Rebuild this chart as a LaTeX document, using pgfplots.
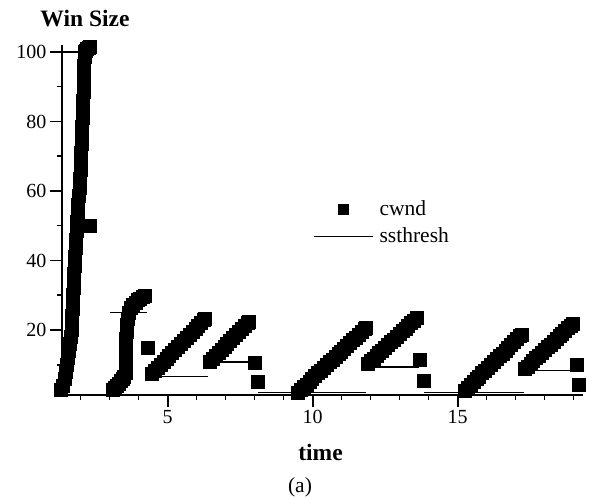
\documentclass[border=0pt]{standalone}
\usepackage{fontspec}
\setmainfont{Liberation Serif}
\usepackage{pgfplots}
\pgfplotsset{compat=1.18}
\begin{document}
\begin{tikzpicture}
\useasboundingbox (-62bp,-102bp) rectangle (529bp,395bp);
\begin{axis}[
  scale only axis, width=521bp, height=350bp,
  xmin=1.355, xmax=19.32, ymin=1.3, ymax=102,
  axis x line=bottom, axis y line=left,
  axis line style={-, line width=1.7bp},
  clip=false,
  xtick={5,10,15}, minor xtick={2,3,4,6,7,8,9,11,12,13,14,16,17,18,19},
  ytick={20,40,60,80,100}, minor ytick={10,30,50,70,90},
  tick align=outside,
  major tick length=12bp, minor tick length=5bp,
  major tick style={line width=1.7bp, black},
  minor tick style={line width=1.5bp, black},
  /pgf/number format/assume math mode=true,
  tick label style={font=\fontsize{20bp}{24bp}\selectfont},
  reverse legend,
  legend cell align=left,
  legend style={at={(0.4818,0.5657)}, anchor=north west, draw=none, fill=none,
    inner sep=0pt, column sep=4bp, row sep=3bp,
    font=\fontsize{21.5bp}{25bp}\selectfont,
    nodes={inner sep=2bp, text height=16bp, text depth=4bp}},
]
% ssthresh
\addplot[black, line width=1.4bp, unbounded coords=jump,
  legend image code/.code={\draw[line width=1.4bp] (0bp,0bp) -- (59bp,0bp);}]
  coordinates {
  (1.36,100) (2.15,100) (nan,nan)
  (3.01,25) (4.29,25) (nan,nan)
  (4.32,6.6) (6.40,6.6) (nan,nan)
  (6.40,10.8) (7.98,10.8) (nan,nan)
  (8.12,2.0) (11.85,2.0) (nan,nan)
  (11.85,9.3) (13.68,9.3) (nan,nan)
  (13.84,2.0) (17.28,2.0) (nan,nan)
  (17.28,8.3) (19.08,8.3)
  };
\addlegendentry{ssthresh}
% cwnd
\addplot[black, only marks, mark=square*, mark size=6.5bp, mark options={fill=black, line width=0pt},
  legend image code/.code={\draw[opacity=0] (0bp,0bp) -- (59bp,0bp);
    \draw[mark=square*, mark size=5bp, mark options={fill=black}] plot coordinates {(29.5bp,0bp)};}]
  coordinates {
  (1.32,2.6)(1.40,4)(1.45,6)(1.50,8)(1.535,10)(1.57,12)(1.60,14)(1.635,16)(1.67,18)(1.685,20)
  (1.70,22)(1.715,24)(1.73,26)(1.74,28)(1.75,30)(1.76,32)(1.77,34)(1.78,36)(1.80,38.5)(1.815,41)
  (1.83,43.5)(1.85,46)(1.865,48.5)(1.88,51)(1.90,53.5)(1.92,56)(1.94,58.5)(1.96,61)(1.98,63.5)
  (1.995,66)(2.01,68.5)(2.02,71)(2.03,73.5)(2.04,76)(2.05,78.5)(2.065,81)(2.08,83.5)(2.09,86)
  (2.10,88.5)(2.11,91)(2.12,93.5)(2.13,96)(2.14,98.5)(2.15,100)(2.19,100.4)(2.23,100.8)
  (2.28,101.1)(2.33,101.3)
  (2.32,49.8)
  (3.10,2.7)(3.17,3.3)(3.24,4.0)(3.31,4.6)(3.38,5.2)(3.45,5.8)(3.51,6.4)(3.55,7.5)(3.56,9.5)
  (3.56,11.5)(3.56,13.5)(3.57,15.5)(3.57,17.5)(3.58,19.5)(3.61,21.5)(3.64,23.3)(3.67,25)
  (3.74,26.2)(3.82,27.1)(3.90,27.9)(3.98,28.5)(4.06,29)(4.14,29.4)(4.22,29.7)
  (4.32,14.8)
  (4.46,7.3)(4.56,8.2)(4.66,9.0)(4.76,9.9)(4.86,10.8)(4.96,11.6)(5.06,12.5)(5.16,13.4)(5.26,14.3)
  (5.36,15.1)(5.46,16.0)(5.56,16.9)(5.66,17.7)(5.76,18.6)(5.86,19.5)(5.96,20.3)(6.06,21.2)
  (6.16,22.1)(6.26,22.9)(6.29,23.2)
  (6.46,10.8)(6.56,11.7)(6.66,12.5)(6.76,13.4)(6.86,14.2)(6.96,15.1)(7.06,16.0)(7.16,16.8)
  (7.26,17.7)(7.36,18.5)(7.46,19.4)(7.56,20.2)(7.66,21.1)(7.76,22.0)(7.80,22.3)
  (8.01,10.6)(8.12,4.9)
  (9.49,1.9)(9.59,2.7)(9.69,3.5)(9.79,4.3)(9.89,5.1)(9.99,5.9)(10.09,6.7)(10.19,7.5)(10.29,8.3)
  (10.39,9.1)(10.49,9.9)(10.59,10.7)(10.69,11.5)(10.79,12.3)(10.89,13.1)(10.99,13.8)(11.09,14.6)
  (11.19,15.4)(11.29,16.2)(11.39,17.0)(11.49,17.8)(11.59,18.6)(11.69,19.4)(11.79,20.2)(11.84,20.6)
  (11.90,10.2)(12.00,11.0)(12.10,11.8)(12.20,12.5)(12.30,13.3)(12.40,14.1)(12.50,14.9)(12.60,15.7)
  (12.70,16.5)(12.80,17.2)(12.90,18.0)(13.00,18.8)(13.10,19.6)(13.20,20.4)(13.30,21.2)(13.40,21.9)
  (13.50,22.7)(13.60,23.5)
  (13.70,11.4)(13.84,5.3)
  (15.25,2.5)(15.35,3.3)(15.45,4.2)(15.55,5.0)(15.65,5.8)(15.75,6.6)(15.85,7.5)(15.95,8.3)
  (16.05,9.1)(16.15,9.9)(16.25,10.8)(16.35,11.6)(16.45,12.4)(16.55,13.2)(16.65,14.1)(16.75,14.9)
  (16.85,15.7)(16.95,16.5)(17.05,17.4)(17.15,18.2)(17.21,18.7)
  (17.31,8.7)(17.41,9.5)(17.51,10.3)(17.61,11.1)(17.71,11.9)(17.81,12.6)(17.91,13.4)(18.01,14.2)
  (18.11,15.0)(18.21,15.8)(18.31,16.6)(18.41,17.4)(18.51,18.2)(18.61,18.9)(18.71,19.7)(18.81,20.5)
  (18.91,21.2)(18.97,21.6)
  (19.10,9.8)(19.18,4.3)
  };
\addlegendentry{cwnd}
\end{axis}
\node[anchor=base, font=\fontsize{23.5bp}{28bp}\selectfont\bfseries] at (23bp,368bp) {Win Size};
\node[anchor=base, font=\fontsize{23.5bp}{28bp}\selectfont\bfseries] at (258.5bp,-65bp) {time};
\node[anchor=base, font=\fontsize{21.5bp}{26bp}\selectfont] at (238bp,-97bp) {(a)};
\end{tikzpicture}
\end{document}
